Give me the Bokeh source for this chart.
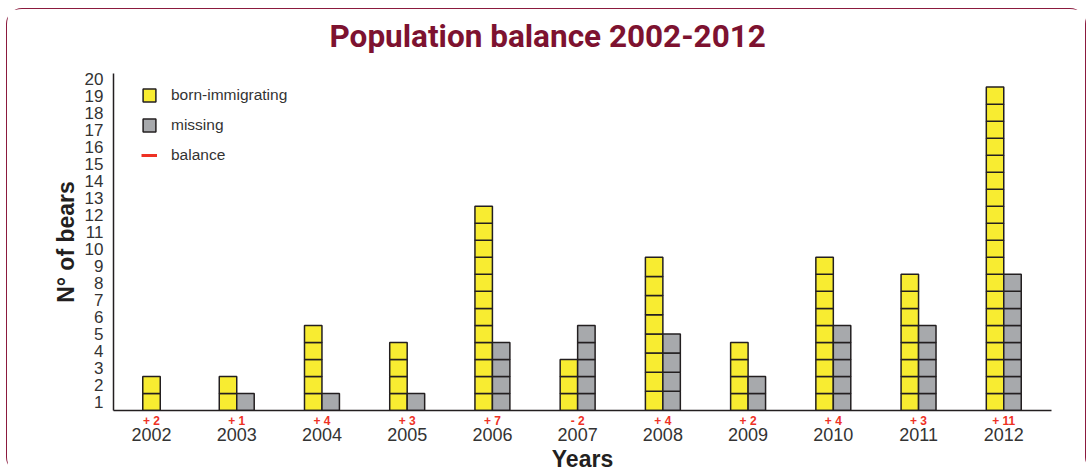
from bokeh.plotting import figure
from bokeh.models import (FixedTicker, LinearAxis, Range1d, Legend, LegendItem,
                          ColumnDataSource, Title)
from bokeh.embed import file_html
from bokeh.resources import INLINE

# ---- data ----
years = ["2002", "2003", "2004", "2005", "2006", "2007", "2008", "2009", "2010", "2011", "2012"]
born_immigrating = [2, 2, 5, 4, 12, 3, 8, 4, 9, 8, 19]
missing = [0, 1, 1, 1, 4, 5, 4, 2, 5, 5, 8]
balance_labels = ["+ 2", "+ 1", "+ 4", "+ 3", "+ 7", "- 2", "+ 4", "+ 2", "+ 4", "+ 3", "+ 11"]
y_tick_labels = [str(k) for k in range(1, 21)]
# pictogram unit height per year (2008 is drawn with slightly taller squares)
unit_scale = [1, 1, 1, 1, 1, 1, 1.125, 1, 1, 1, 1]

YELLOW = "#f8ec31"
GREY = "#a7a9ac"
EDGE = "#231f20"
RED = "#ee3124"
MAROON = "#7d1230"
TEXT = "#333333"
FONT = "Liberation Sans"

W = 0.205  # square width in category units

def build(counts, side):
    L, R, B, T = [], [], [], []
    for i, (n, s) in enumerate(zip(counts, unit_scale)):
        if side == "left":
            if missing[i] == 0:
                l, r = i - W / 2, i + W / 2
            else:
                l, r = i - W, i
        else:
            l, r = i, i + W
        for k in range(n):
            L.append(l); R.append(r); B.append(k * s); T.append((k + 1) * s)
    return ColumnDataSource(dict(left=L, right=R, bottom=B, top=T))

p = figure(width=1080, height=465, output_backend="svg", toolbar_location=None,
           title=None,
           x_range=Range1d(-0.446, 10.56), y_range=Range1d(0, 19.8),
           min_border_left=106, min_border_right=36, min_border_top=64,
           min_border_bottom=63, x_axis_location=None, y_axis_location=None)
p.grid.visible = False
p.outline_line_color = None
p.background_fill_color = "white"
p.border_fill_color = "white"
p.styles = {"border": "1.5px solid #8b1a3e", "border-bottom-color": "transparent",
            "border-radius": "16px", "margin-left": "6px", "margin-top": "8px"}

yel = p.quad(source=build(born_immigrating, "left"), left="left", right="right",
             bottom="bottom", top="top", fill_color=YELLOW, line_color=EDGE, line_width=1.5)
gry = p.quad(source=build(missing, "right"), left="left", right="right",
             bottom="bottom", top="top", fill_color=GREY, line_color=EDGE, line_width=1.5)
bal = p.line(x=[float("nan")], y=[float("nan")], line_color=RED, line_width=3)

# y axis
yax = LinearAxis(ticker=FixedTicker(ticks=[k - 0.5 for k in range(1, 21)]),
                 major_label_overrides={k - 0.5: lab for k, lab in zip(range(1, 21), y_tick_labels)},
                 axis_label="N° of bears")
yax.major_tick_line_color = None
yax.minor_tick_line_color = None
yax.axis_line_color = EDGE
yax.axis_line_width = 1.5
yax.major_label_text_font = FONT
yax.major_label_text_font_size = "17px"
yax.major_label_text_color = TEXT
yax.major_label_standoff = 4
yax.axis_label_text_font = FONT
yax.axis_label_text_font_size = "23px"
yax.axis_label_text_font_style = "bold"
yax.axis_label_text_color = EDGE
yax.axis_label_standoff = 3
p.add_layout(yax, "left")

# x axis 1: balance labels
xb = LinearAxis(ticker=FixedTicker(ticks=list(range(len(years)))),
                major_label_overrides={i: lab for i, lab in enumerate(balance_labels)})
xb.major_tick_line_color = None
xb.minor_tick_line_color = None
xb.axis_line_color = EDGE
xb.axis_line_width = 1.5
xb.major_label_text_font = FONT
xb.major_label_text_font_size = "12px"
xb.major_label_text_font_style = "bold"
xb.major_label_text_color = RED
xb.major_label_standoff = -3
p.add_layout(xb, "below")

# x axis 2: years
xy = LinearAxis(ticker=FixedTicker(ticks=list(range(len(years)))),
                major_label_overrides={i: lab for i, lab in enumerate(years)},
                axis_label="Years")
xy.major_tick_line_color = None
xy.minor_tick_line_color = None
xy.axis_line_color = None
xy.major_label_text_font = FONT
xy.major_label_text_font_size = "18px"
xy.major_label_text_color = TEXT
xy.major_label_standoff = -9
xy.axis_label_text_font = FONT
xy.axis_label_text_font_size = "23px"
xy.axis_label_text_font_style = "bold"
xy.axis_label_text_color = EDGE
xy.axis_label_standoff = 2
p.add_layout(xy, "below")

# spacer between frame and title, then the title itself (stacked outward)
p.add_layout(Title(text=" ", text_font_size="10px", standoff=6), "above")
p.add_layout(Title(text="Population balance 2002-2012", text_font="Roboto",
                   text_font_size="31.5px", text_font_style="bold", text_color=MAROON,
                   align="left", offset=216, standoff=0), "above")

legend = Legend(items=[LegendItem(label="born-immigrating", renderers=[yel]),
                       LegendItem(label="missing", renderers=[gry]),
                       LegendItem(label="balance", renderers=[bal])],
                location=(28, 246), glyph_width=16, glyph_height=16, label_height=16,
                spacing=12, padding=0, margin=0, label_standoff=14,
                label_text_font=FONT, label_text_font_size="15.5px", label_text_color=TEXT,
                border_line_color=None, background_fill_alpha=0)
p.add_layout(legend)

open("out.html", "w").write(file_html(p, INLINE))
